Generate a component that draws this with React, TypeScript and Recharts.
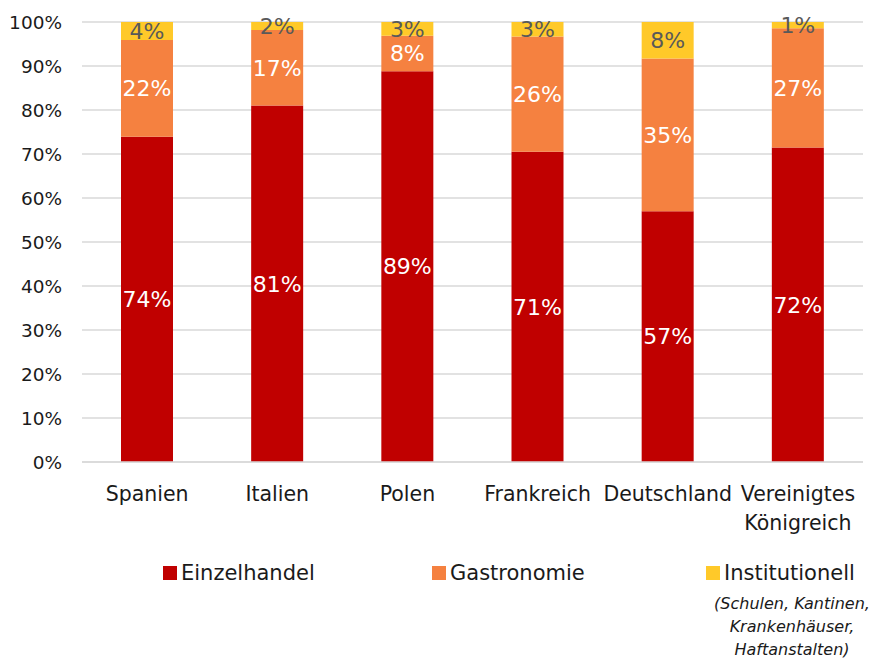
import { BarChart, Bar, XAxis, YAxis, CartesianGrid, LabelList } from 'recharts';

const categories = ['Spanien', 'Italien', 'Polen', 'Frankreich', 'Deutschland', 'Vereinigtes Königreich'];
const einzelhandel = [73.9, 81.0, 88.8, 70.5, 57.0, 71.5];
const gastronomie = [22.0, 17.2, 8.1, 26.2, 34.7, 27.1];
const institutionell = [4.1, 1.8, 3.1, 3.3, 8.3, 1.4];
const yTicks = [0, 10, 20, 30, 40, 50, 60, 70, 80, 90, 100];

const seriesNames = ['Einzelhandel', 'Gastronomie', 'Institutionell'];
const noteLines = ['(Schulen, Kantinen,', 'Krankenhäuser,', 'Haftanstalten)'];

const RED = '#C00000';
const ORANGE = '#F58140';
const YELLOW = '#FFC929';
const FONT = '"DejaVu Sans", sans-serif';

const data = categories.map((name, i) => ({
  name,
  einzelhandel: einzelhandel[i],
  gastronomie: gastronomie[i],
  institutionell: institutionell[i],
}));

function CategoryTick({ x, y, payload }: any) {
  const words = String(payload.value).split(' ');
  return (
    <text x={x} y={y + 39} textAnchor="middle" fill="#1a1a1a" fontSize={20.5} fontFamily={FONT}>
      {words.map((w, i) => (
        <tspan key={w} x={x} dy={i === 0 ? 0 : 29}>{w}</tspan>
      ))}
    </text>
  );
}

const pct = (v: any) => `${Math.round(Number(v))}%`;

export default function App() {
  const legendColors = [RED, ORANGE, YELLOW];
  const legendX = [163, 432, 706];
  return (
    <div style={{ position: 'absolute', left: 0, top: 0, width: 871, height: 661, background: '#fff', fontFamily: FONT }}>
      <BarChart width={871} height={661} data={data} margin={{ top: 22, right: 8, left: 0, bottom: 129 }}>
        <CartesianGrid vertical={false} stroke="#d9d9d9" strokeWidth={1.5} />
        <XAxis
          dataKey="name"
          axisLine={{ stroke: '#d9d9d9', strokeWidth: 1.5 }}
          tickLine={false}
          tickSize={0}
          tickMargin={0}
          height={70}
          interval={0}
          tick={<CategoryTick />}
        />
        <YAxis
          width={82}
          domain={[0, 100]}
          ticks={yTicks}
          axisLine={false}
          tickLine={false}
          tickSize={0}
          tickMargin={20}
          tickFormatter={(v) => `${v}%`}
          tick={{ fill: '#1a1a1a', fontSize: 18.5, fontFamily: FONT }}
        />
        <Bar dataKey="einzelhandel" stackId="a" fill={RED} barSize={52} isAnimationActive={false}>
          <LabelList dataKey="einzelhandel" position="center" fill="#fff" fontSize={22} fontFamily={FONT} formatter={pct} />
        </Bar>
        <Bar dataKey="gastronomie" stackId="a" fill={ORANGE} barSize={52} isAnimationActive={false}>
          <LabelList dataKey="gastronomie" position="center" fill="#fff" fontSize={22} fontFamily={FONT} formatter={pct} />
        </Bar>
        <Bar dataKey="institutionell" stackId="a" fill={YELLOW} barSize={52} isAnimationActive={false}>
          <LabelList dataKey="institutionell" position="center" fill="#595959" fontSize={22} fontFamily={FONT} formatter={pct} />
        </Bar>
      </BarChart>
      {seriesNames.map((s, i) => (
        <div
          key={s}
          style={{ position: 'absolute', left: legendX[i], top: 561, display: 'flex', alignItems: 'center', fontSize: 21, color: '#1a1a1a', whiteSpace: 'nowrap' }}
        >
          <span style={{ display: 'inline-block', width: 14, height: 14, background: legendColors[i], marginRight: 4 }} />
          {s}
        </div>
      ))}
      <div style={{ position: 'absolute', left: 702, top: 592, width: 180, textAlign: 'center', fontStyle: 'italic', fontSize: 16, lineHeight: '23px', color: '#1a1a1a' }}>
        {noteLines.map((l) => (
          <div key={l}>{l}</div>
        ))}
      </div>
    </div>
  );
}
